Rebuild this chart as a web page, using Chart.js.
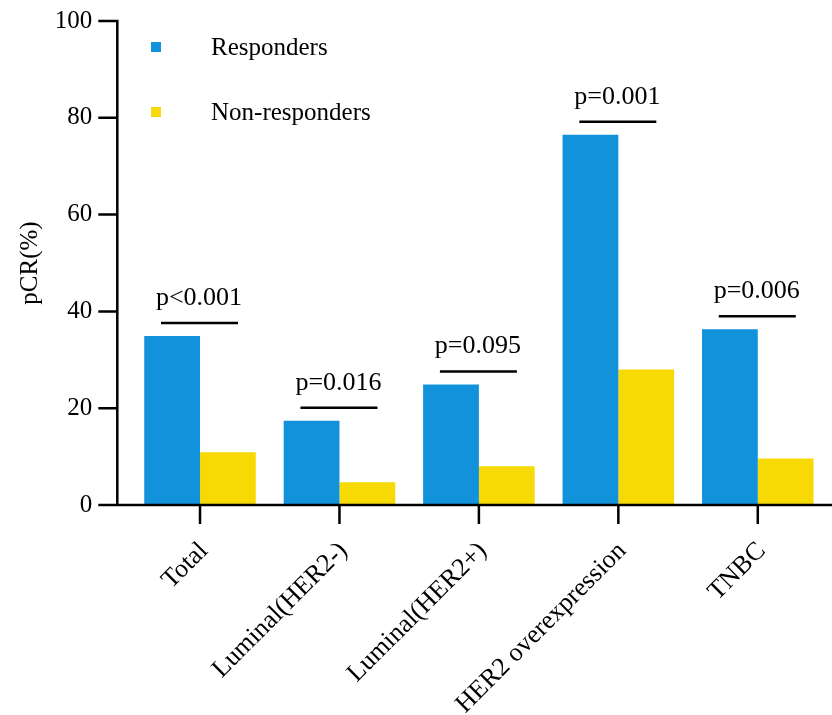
<!DOCTYPE html>
<html lang="en">
<head>
    <meta charset="UTF-8">
    <title>pCR by subtype</title>
    <script src="https://cdn.jsdelivr.net/npm/chart.js"></script>
    <style>
        html, body { margin: 0; padding: 0; background: #fff; }
        #wrap { width: 832px; height: 715px; }
    </style>
</head>
<body>
    <div id="wrap"><canvas id="pcrChart"></canvas></div>
    <script>
        const categories = ['Total', 'Luminal(HER2-)', 'Luminal(HER2+)', 'HER2 overexpression', 'TNBC'];
        const responders = [34.9, 17.4, 24.9, 76.5, 36.3];
        const nonResponders = [10.9, 4.7, 8.0, 28.0, 9.6];
        const pValues = ['p<0.001', 'p=0.016', 'p=0.095', 'p=0.001', 'p=0.006'];
        const yTicks = [0, 20, 40, 60, 80, 100];

        const FONT = 'Liberation Serif';

        // axes, brackets and legend drawn by hand to get the GraphPad look
        const decor = {
            id: 'decor',
            afterDraw(chart) {
                const ctx = chart.ctx;
                const x = chart.scales.x;
                const y = chart.scales.y;
                const area = chart.chartArea;
                const axisX = area.left - 13;
                const y0 = y.getPixelForValue(0);

                ctx.save();
                ctx.strokeStyle = '#000';
                ctx.lineWidth = 2.5;
                ctx.lineCap = 'butt';

                ctx.beginPath();
                ctx.moveTo(axisX, y.getPixelForValue(100) - 1.25);
                ctx.lineTo(axisX, y0);
                yTicks.forEach(v => {
                    const py = y.getPixelForValue(v);
                    ctx.moveTo(axisX - 19, py);
                    ctx.lineTo(axisX + 1.25, py);
                });
                ctx.moveTo(axisX - 19, y0);
                ctx.lineTo(chart.width, y0);
                categories.forEach((c, i) => {
                    const px = x.getPixelForValue(i);
                    ctx.moveTo(px, y0);
                    ctx.lineTo(px, y0 + 19);
                });
                ctx.stroke();

                // significance brackets
                ctx.font = '26px "' + FONT + '"';
                ctx.fillStyle = '#000';
                ctx.textAlign = 'center';
                ctx.textBaseline = 'alphabetic';
                categories.forEach((c, i) => {
                    const px = x.getPixelForValue(i);
                    const top = y.getPixelForValue(Math.max(responders[i], nonResponders[i]));
                    const ly = top - 13;
                    ctx.beginPath();
                    ctx.moveTo(px - 39, ly);
                    ctx.lineTo(px + 38, ly);
                    ctx.stroke();
                    ctx.fillText(pValues[i], px - 1, ly - 18);
                });

                // legend
                ctx.font = '25px "' + FONT + '"';
                const ds = chart.data.datasets;
                const rows = [47, 112];
                ctx.textAlign = 'left';
                ctx.textBaseline = 'middle';
                ds.forEach((d, i) => {
                    ctx.fillStyle = d.backgroundColor;
                    ctx.fillRect(151, rows[i] - 5, 10, 10);
                    ctx.fillStyle = '#000';
                    ctx.fillText(d.label, 211, rows[i] + 1);
                });
                ctx.restore();
            }
        };

        new Chart(document.getElementById('pcrChart'), {
            type: 'bar',
            data: {
                labels: categories,
                datasets: [
                    { label: 'Responders', data: responders, backgroundColor: '#1192DB' },
                    { label: 'Non-responders', data: nonResponders, backgroundColor: '#F6D905' }
                ]
            },
            options: {
                responsive: true,
                maintainAspectRatio: false,
                animation: false,
                layout: { padding: { top: 21, right: 4.5, left: 0, bottom: 0 } },
                datasets: {
                    bar: { categoryPercentage: 0.8, barPercentage: 1.0, borderWidth: 0 }
                },
                plugins: {
                    legend: { display: false },
                    tooltip: { enabled: false }
                },
                scales: {
                    x: {
                        grid: { display: false, drawTicks: false },
                        border: { display: false },
                        ticks: {
                            color: '#000',
                            font: { family: FONT, size: 26 },
                            minRotation: 45,
                            maxRotation: 45,
                            labelOffset: 4,
                            padding: 31
                        },
                        afterFit(scale) {
                            scale.height = 210;
                            scale.paddingLeft = 0;
                            scale.paddingRight = 0;
                        }
                    },
                    y: {
                        min: 0,
                        max: 100,
                        grid: { display: false, drawTicks: false },
                        border: { display: false },
                        afterBuildTicks(scale) {
                            scale.ticks = yTicks.map(v => ({ value: v }));
                        },
                        ticks: {
                            color: '#000',
                            font: { family: FONT, size: 25 },
                            padding: 38
                        },
                        title: {
                            display: true,
                            text: 'pCR(%)',
                            color: '#000',
                            font: { family: FONT, size: 25 },
                            padding: { top: 15 }
                        },
                        afterFit(scale) {
                            scale.width = 130.3;
                            scale.paddingTop = 0;
                            scale.paddingBottom = 0;
                        }
                    }
                }
            },
            plugins: [decor]
        });
    </script>
</body>
</html>
